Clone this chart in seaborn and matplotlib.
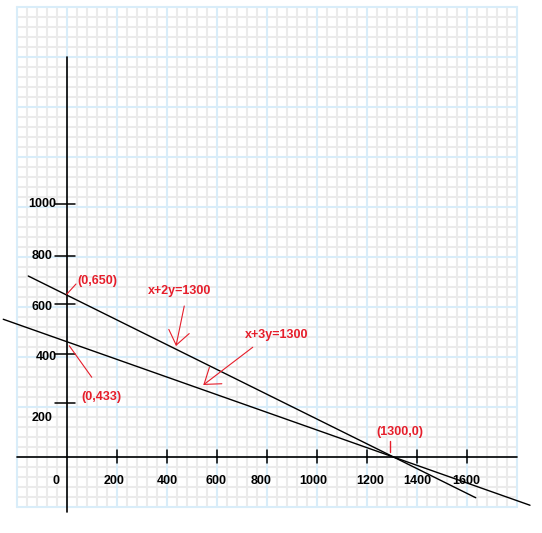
import matplotlib
matplotlib.use('Agg')
import matplotlib.pyplot as plt
import seaborn as sns
import numpy as np
import pandas as pd

sns.set_theme(style='white')
plt.rcParams['font.family'] = ['Liberation Sans', 'DejaVu Sans']

# ---- data ----
equations = ['x+2y=1300', 'x+3y=1300']
line1_x = [-153, 1637]
line1_y = [722, -165]
line2_x = [-253, 1854]
line2_y = [549, -195]

x_tick_values = [200, 400, 600, 800, 1000, 1200, 1400, 1600]
x_label_text = ['0', '200', '400', '600', '800', '1000', '1200', '1400', '1600']
x_label_pos = [-42, 190, 402, 600, 778, 988, 1214, 1405, 1598]

y_tick_values = [213, 410, 609, 801, 1009]
y_label_text = ['200', '400', '600', '800', '1000']
y_label_pos = [155, 399, 599, 801, 1009]

point_labels = ['(0,650)', '(0,433)', '(1300,0)']
point_label_x = [43, 58, 1332]
point_label_y = [703, 239, 99]

RED = '#e61e2b'
BLUE = '#d9edf9'
GREY = '#ebebeb'

fig = plt.figure(figsize=(5.42, 5.33), dpi=100)
ax = fig.add_axes([0, 0, 1, 1])
ax.set_xlim(-266, 1902)
ax.set_ylim(-306, 1826)
ax.axis('off')

# graph-paper background
g0, g1 = -200, 1800
for v in np.arange(g0, g1 + 1, 40):
    if (v - g0) % 200 == 0:
        continue
    ax.plot([v, v], [g0, g1], color=GREY, lw=1.5, zorder=0)
    ax.plot([g0, g1], [v, v], color=GREY, lw=1.5, zorder=0)
for v in np.arange(g0, g1 + 1, 200):
    ax.plot([v, v], [g0, g1], color=BLUE, lw=1.5, zorder=1)
    ax.plot([g0, g1], [v, v], color=BLUE, lw=1.5, zorder=1)

# axes
ax.plot([0, 0], [-222, 1598], color='black', lw=1.2, zorder=3)
ax.plot([-198, 1802], [0, 0], color='black', lw=1.2, zorder=3)

for t in x_tick_values:
    ax.plot([t, t], [-26, 28], color='black', lw=1.1, zorder=3)
for t in y_tick_values:
    ax.plot([-46, 34], [t, t], color='black', lw=1.1, zorder=3)

for txt, xp in zip(x_label_text, x_label_pos):
    ax.text(xp, -98, txt, ha='center', va='center', fontsize=9,
            fontweight='bold', color='black', zorder=4)
for txt, yp in zip(y_label_text, y_label_pos):
    ax.text(-40 if txt in ('1000', '400') else -55, yp, txt, ha='right',
            va='center', fontsize=9, fontweight='bold', color='black', zorder=4)

# the two constraint lines
df = pd.DataFrame({
    'x': line1_x + line2_x,
    'y': line1_y + line2_y,
    'eq': [equations[0]] * len(line1_x) + [equations[1]] * len(line2_x),
})
sns.lineplot(data=df, x='x', y='y', hue='eq', palette=['black', 'black'],
             sort=False, estimator=None, legend=False, lw=1.0, ax=ax, zorder=5)

# red annotations
for txt, xp, yp in zip(point_labels, point_label_x, point_label_y):
    ax.text(xp, yp, txt, ha='center' if txt == '(1300,0)' else 'left',
            va='center', fontsize=9, fontweight='bold', color=RED, zorder=6)
ax.plot([1, 38], [649, 690], color=RED, lw=0.8, zorder=6)
ax.plot([11, 101], [443, 317], color=RED, lw=0.8, zorder=6)
ax.plot([1294, 1294], [19, 63], color=RED, lw=1.0, zorder=6)

ax.text(454, 662, equations[0], ha='center', va='center', fontsize=9,
        fontweight='bold', color=RED, zorder=6)
ax.annotate('', xy=(438, 442), xytext=(471, 602),
            arrowprops=dict(arrowstyle='->,head_length=10,head_width=7.5',
                            mutation_scale=1, color=RED, lw=0.8,
                            shrinkA=0, shrinkB=0), zorder=6)
ax.text(839, 486, equations[1], ha='center', va='center', fontsize=9,
        fontweight='bold', color=RED, zorder=6)
ax.annotate('', xy=(547, 286), xytext=(745, 437),
            arrowprops=dict(arrowstyle='->,head_length=10.5,head_width=7.4',
                            mutation_scale=1, color=RED, lw=0.8,
                            shrinkA=0, shrinkB=0), zorder=6)

fig.savefig('out.png', dpi=100, facecolor='white')
